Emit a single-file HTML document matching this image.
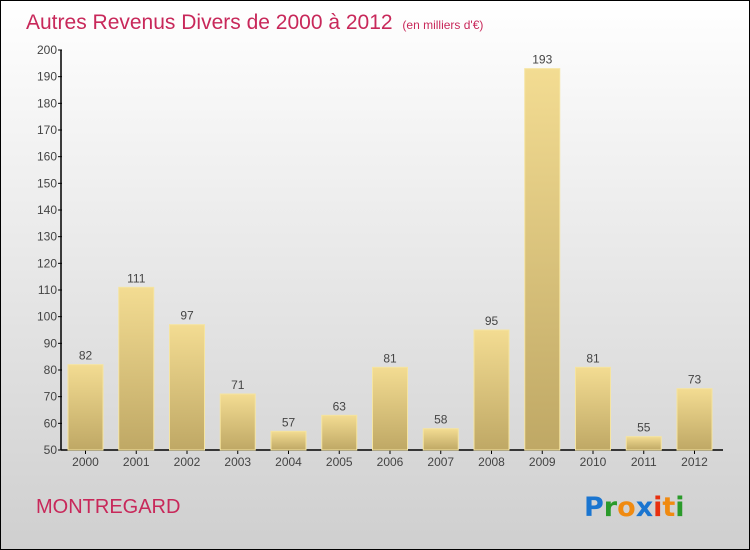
<!DOCTYPE html>
<html><head><meta charset="utf-8"><style>
body{margin:0}
#c{position:relative;width:748px;height:548px;border:1px solid #000;background:linear-gradient(#ffffff,#cfcfcf);font-family:"Liberation Sans",sans-serif;overflow:hidden}
</style></head><body>
<div id="c">
<svg id="s" width="748" height="548" xmlns="http://www.w3.org/2000/svg">
<defs><linearGradient id="g" x1="0" y1="0" x2="0" y2="1"><stop offset="0" stop-color="#f3dc92"/><stop offset="1" stop-color="#bfa865"/></linearGradient></defs>
<text x="25" y="28" font-size="21" fill="#c8285a">Autres Revenus Divers de 2000 à 2012 <tspan font-size="12" dx="4">(en milliers d'€)</tspan></text>
<text x="35" y="512" font-size="20" fill="#c8285a">MONTREGARD</text>
<g font-size="27" font-weight="bold" font-family="'DejaVu Sans',sans-serif">
<text x="583" y="515"><tspan fill="#1a75d0">P</tspan><tspan fill="#2a9a2a">r</tspan><tspan fill="#f08a10">o</tspan><tspan fill="#1a75d0">x</tspan><tspan fill="#e83010">i</tspan><tspan fill="#f08a10">t</tspan><tspan fill="#2a9a2a">i</tspan></text></g>
<g id="ax"></g><g id="bars"></g>
</svg></div>
<script>
const years=["2000","2001","2002","2003","2004","2005","2006","2007","2008","2009","2010","2011","2012"];
const values=[82,111,97,71,57,63,81,58,95,193,81,55,73];
const yTicks=[50,60,70,80,90,100,110,120,130,140,150,160,170,180,190,200];
const NS="http://www.w3.org/2000/svg";
const y=v=>449-(v-50)*(400/150);
const x=i=>67+i*50.75;
const bw=35;
function mk(t,a,p){const e=document.createElementNS(NS,t);for(const k in a)e.setAttribute(k,a[k]);p.appendChild(e);return e;}
const ax=document.getElementById('ax'),bars=document.getElementById('bars');
const yl=mk('line',{x1:60,x2:60,y1:y(200),y2:y(50),stroke:'#000','stroke-width':1.5},ax);


const xl=mk('line',{x1:60,x2:722,y1:y(50),y2:y(50),stroke:'#000','stroke-width':1.5},ax);


yTicks.forEach(t=>{
 mk('line',{x1:57,x2:61,y1:y(t),y2:y(t),stroke:'#000'},ax);
 const tx=mk('text',{x:56,y:y(t)+4,'text-anchor':'end','font-size':12,fill:'#444'},ax);
 tx.textContent=t;
 
 
});
years.forEach((yr,i)=>{
 const r=mk('rect',{x:x(i),y:y(values[i]),width:bw,height:y(50)-y(values[i]),fill:'url(#g)',stroke:'#f5e4a0','stroke-width':1},bars);
 
 
 const v=mk('text',{x:x(i)+bw/2,y:y(values[i])-5,'text-anchor':'middle','font-size':12,fill:'#444'},bars);
 v.textContent=values[i];
 
 
 mk('line',{x1:x(i)+bw/2,x2:x(i)+bw/2,y1:y(50),y2:y(50)+4,stroke:'#000'},ax);
 const l=mk('text',{x:x(i)+bw/2,y:y(50)+16,'text-anchor':'middle','font-size':12,fill:'#444'},ax);
 l.textContent=yr;
 
 
});
</script>
</body></html>
